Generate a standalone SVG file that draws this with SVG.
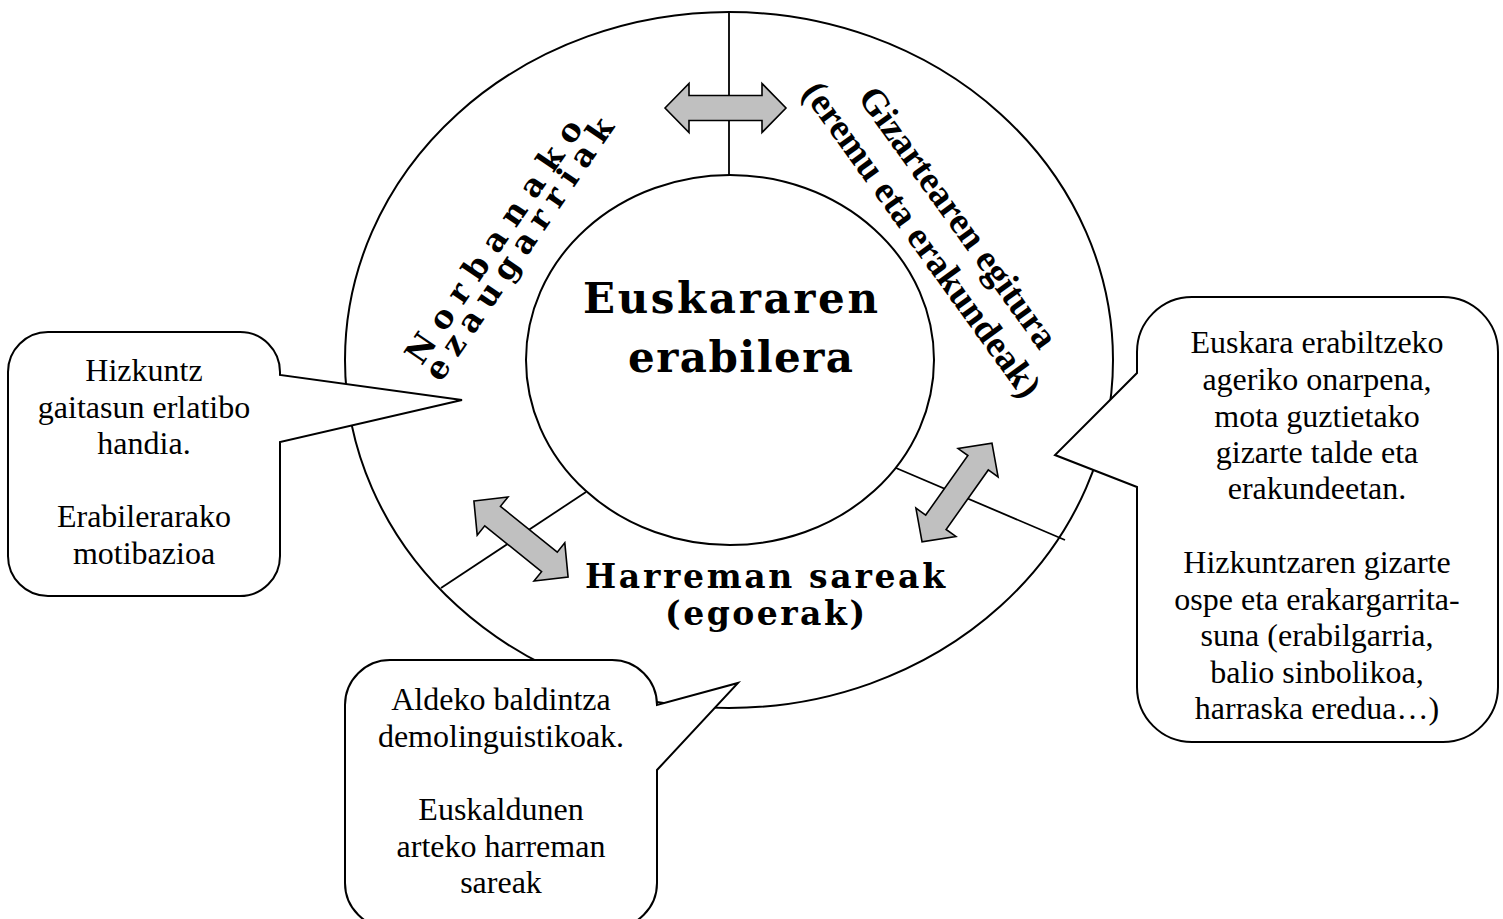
<svg xmlns="http://www.w3.org/2000/svg" width="1503" height="919" viewBox="0 0 1503 919">
<style>
.ring{fill:#fff;stroke:#000;stroke-width:2}
.div{stroke:#000;stroke-width:1.8;fill:none}
.arr{fill:#c0c0c0;stroke:#000;stroke-width:1.6;stroke-linejoin:miter}
.call{fill:#fff;stroke:#000;stroke-width:2;stroke-linejoin:miter}
.ct{font-family:"Liberation Serif","Times New Roman",serif;font-size:32px;fill:#000;text-anchor:middle}
.big{font-family:"DejaVu Serif",serif;font-weight:bold;fill:#000;text-anchor:middle}
.giz{font-family:"Liberation Serif","Times New Roman",serif;font-weight:bold;font-size:37px;fill:#000;text-anchor:middle}
</style>
<defs>
<path id="dblarrow" d="M-60.5,0 L-36.5,-24.5 L-36.5,-12.5 L36.5,-12.5 L36.5,-24.5 L60.5,0 L36.5,24.5 L36.5,12.5 L-36.5,12.5 L-36.5,24.5 Z"/>
</defs>
<rect width="1503" height="919" fill="#fff"/>
<g id="outer-ring">
<ellipse class="ring" cx="729" cy="360" rx="384" ry="348"/>
</g>
<g id="connectors">
<line class="div" x1="729" y1="12" x2="729" y2="175"/>
<line class="div" x1="441" y1="588" x2="586" y2="492"/>
<line class="div" x1="896" y1="468" x2="1065" y2="540"/>
<use href="#dblarrow" class="arr" transform="translate(725.5,108)"/>
<use href="#dblarrow" class="arr" transform="translate(521,539) rotate(38.9)"/>
<use href="#dblarrow" class="arr" transform="translate(957,492.5) rotate(125.3)"/>
</g>
<g id="center">
<ellipse class="ring" cx="730" cy="360" rx="204" ry="185"/>
<text class="big" font-size="42" x="730.5" y="313" textLength="295" lengthAdjust="spacing">Euskararen</text>
<text class="big" font-size="42" x="740.5" y="372" textLength="225" lengthAdjust="spacing">erabilera</text>
</g>
<g id="norbanako">
<text class="big" font-size="32" transform="translate(503,247.5) rotate(-55.7)" textLength="288" lengthAdjust="spacing">Norbanako</text>
<text class="big" font-size="32" transform="translate(528,255) rotate(-55.7)" textLength="310" lengthAdjust="spacing">ezaugarriak</text>
</g>
<g id="gizartea">
<text class="giz" transform="translate(948.4,224.4) rotate(54.2)">Gizartearen egitura</text>
<text class="giz" transform="translate(912.2,246.3) rotate(54.2)">(eremu eta erakundeak)</text>
</g>
<g id="harreman">
<text class="big" font-size="33" x="765" y="588" textLength="360" lengthAdjust="spacing">Harreman sareak</text>
<text class="big" font-size="33" x="765" y="625" textLength="200" lengthAdjust="spacing">(egoerak)</text>
</g>
<g id="callout-left">
<path class="call" d="M48,332 H240 A40,40 0 0 1 280,372 V375 L462,400 L280,442 V556 A40,40 0 0 1 240,596 H48 A40,40 0 0 1 8,556 V372 A40,40 0 0 1 48,332 Z"/>
<text class="ct" x="144" y="381">Hizkuntz</text>
<text class="ct" x="144" y="418">gaitasun erlatibo</text>
<text class="ct" x="144" y="454">handia.</text>
<text class="ct" x="144" y="527">Erabilerarako</text>
<text class="ct" x="144" y="564">motibazioa</text>
</g>
<g id="callout-right">
<path class="call" d="M1192,297 H1443 A55,55 0 0 1 1498,352 V687 A55,55 0 0 1 1443,742 H1192 A55,55 0 0 1 1137,687 V487 L1055,455 L1137,373 V352 A55,55 0 0 1 1192,297 Z"/>
<text class="ct" x="1317" y="353">Euskara erabiltzeko</text>
<text class="ct" x="1317" y="390">ageriko onarpena,</text>
<text class="ct" x="1317" y="427">mota guztietako</text>
<text class="ct" x="1317" y="463">gizarte talde eta</text>
<text class="ct" x="1317" y="499">erakundeetan.</text>
<text class="ct" x="1317" y="573">Hizkuntzaren gizarte</text>
<text class="ct" x="1317" y="610">ospe eta erakargarrita-</text>
<text class="ct" x="1317" y="646">suna (erabilgarria,</text>
<text class="ct" x="1317" y="683">balio sinbolikoa,</text>
<text class="ct" x="1317" y="719">harraska eredua…)</text>
</g>
<g id="callout-bottom">
<path class="call" d="M390,660 H612 A45,45 0 0 1 657,705 L738,683 L657,770 V883 A45,45 0 0 1 612,928 H390 A45,45 0 0 1 345,883 V705 A45,45 0 0 1 390,660 Z"/>
<text class="ct" x="501" y="710">Aldeko baldintza</text>
<text class="ct" x="501" y="747">demolinguistikoak.</text>
<text class="ct" x="501" y="820">Euskaldunen</text>
<text class="ct" x="501" y="857">arteko harreman</text>
<text class="ct" x="501" y="893">sareak</text>
</g>
</svg>
